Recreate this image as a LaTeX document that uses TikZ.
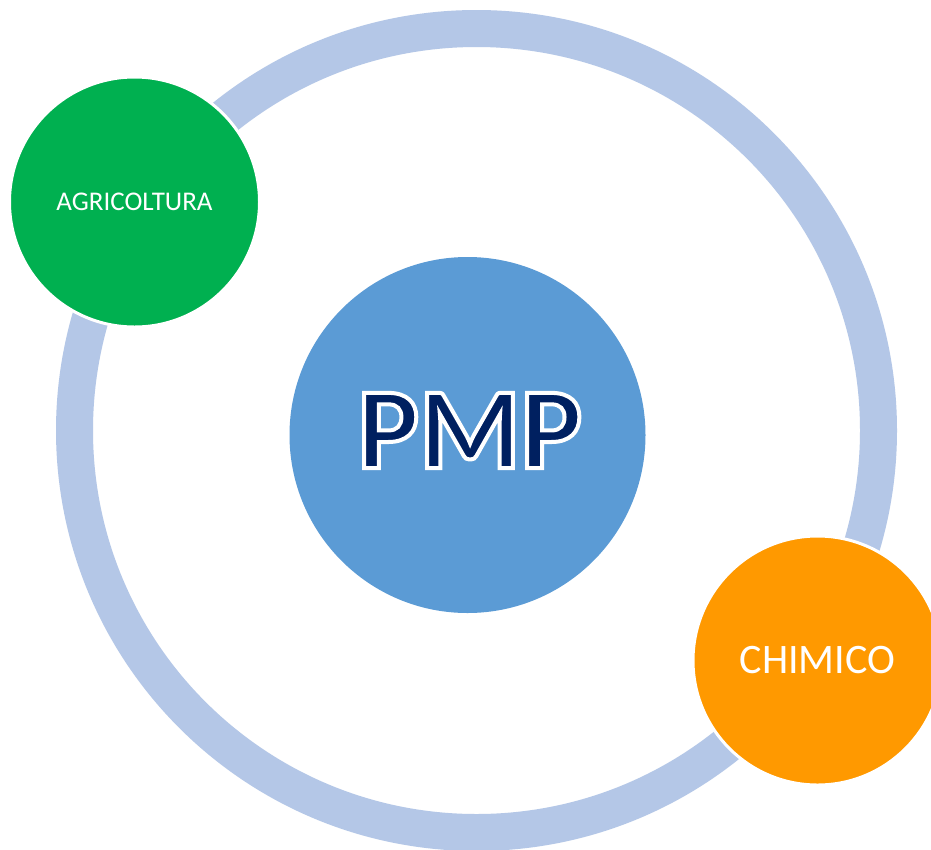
\documentclass[tikz,border=0pt]{standalone}
\usepackage{fontspec}
\setmainfont{Carlito}
\definecolor{ringc}{RGB}{180,199,231}
\definecolor{pmpblue}{RGB}{91,155,213}
\definecolor{pmpnavy}{RGB}{0,32,96}
\definecolor{agrigreen}{RGB}{0,176,80}
\definecolor{chimorange}{RGB}{255,153,0}
\tikzset{
  bubble/.style={circle, draw=white, line width=3pt, inner sep=0pt, text=white},
  outlinetext/.style={inner sep=0pt, text=pmpnavy}
}
\begin{document}
\begin{tikzpicture}[x=1pt,y=-1pt]
\useasboundingbox (0,0) rectangle (931,849);
\fill[white] (0,0) rectangle (931,849);
\draw[ringc, line width=37pt] (476.5,430.5) circle[radius=402pt];
\node[bubble, fill=pmpblue, minimum size=356pt, line width=0pt, draw=none] (pmp) at (467.5,435) {};
\node[outlinetext] (pmptext) at (470,430.5) {\fontsize{116}{116}\selectfont\bfseries\special{pdf:literal direct 2 Tr 4 w 1 1 1 RG}PMP\special{pdf:literal direct 0 Tr}};
\node[bubble, fill=agrigreen, minimum size=250pt] (agri) at (134.5,202) {\fontsize{27}{27}\selectfont AGRICOLTURA};
\node[bubble, fill=chimorange, minimum size=249pt] (chim) at (817.5,660.5) {\fontsize{42}{42}\selectfont CHIMICO};
\end{tikzpicture}
\end{document}
